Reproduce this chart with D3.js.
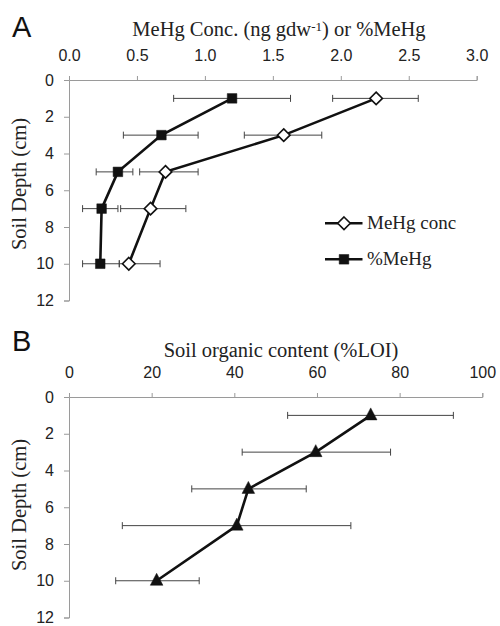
<!DOCTYPE html>
<html>
<head>
<meta charset="utf-8">
<script src="https://cdn.jsdelivr.net/npm/d3@7"></script>
<style>
  body { margin: 0; background: #fff; }
  .tick text { font-family: "Liberation Sans", Arial, sans-serif; font-size: 16px; fill: #222; }
  .serif { font-family: "Liberation Serif", "Times New Roman", serif; fill: #222; }
</style>
</head>
<body>
<svg id="chart"></svg>
<script>
// data (depth in cm)
const depths = [1, 3, 5, 7, 10];

const mehgConc = [2.26, 1.58, 0.71, 0.60, 0.44];
const mehgConcLo = [1.94, 1.29, 0.52, 0.38, 0.37];
const mehgConcHi = [2.57, 1.86, 0.95, 0.86, 0.67];

const pctMehg = [1.20, 0.68, 0.36, 0.24, 0.23];
const pctMehgLo = [0.77, 0.40, 0.20, 0.10, 0.10];
const pctMehgHi = [1.63, 0.95, 0.47, 0.36, 0.37];

const loi = [73.0, 59.7, 43.4, 40.6, 21.2];
const loiLo = [52.9, 41.9, 29.7, 12.9, 11.3];
const loiHi = [93.0, 77.8, 57.4, 68.2, 31.5];

const depthTicks = [0, 2, 4, 6, 8, 10, 12];
const ticksA = [0, 0.5, 1, 1.5, 2, 2.5, 3];
const ticksB = [0, 20, 40, 60, 80, 100];

const svg = d3.select('#chart')
    .attr('width', 500)
    .attr('height', 626);

const axisColor = '#9a9a9a';

function panel(opts) {
    const g = svg.append('g');
    const x = d3.scaleLinear().domain(opts.xDomain).range([69, opts.xRight]);
    const y = d3.scaleLinear().domain([0, 12]).range([opts.top, opts.top + 220.5]);

    // top axis
    const xa = g.append('g')
        .attr('transform', `translate(0,${opts.top})`)
        .call(d3.axisTop(x).tickValues(opts.xTicks).tickFormat(opts.fmt).tickSize(4).tickPadding(15));
    // left axis
    const ya = g.append('g')
        .attr('transform', 'translate(69,0)')
        .call(d3.axisLeft(y).tickValues(depthTicks).tickSize(5).tickPadding(10));
    [xa, ya].forEach(a => {
        a.select('.domain').attr('stroke', axisColor);
        a.selectAll('.tick line').attr('stroke', axisColor);
    });

    // labels
    g.append('text').attr('x', 12).attr('y', opts.letterY)
        .style('font-family', '"Liberation Sans", Arial, sans-serif')
        .style('font-size', '29px').attr('fill', '#111').text(opts.letter);

    const t = g.append('text').attr('class', 'serif')
        .attr('x', opts.titleX).attr('y', opts.titleY)
        .attr('text-anchor', 'middle').style('font-size', '20.5px');
    opts.title(t);

    g.append('text').attr('class', 'serif')
        .attr('transform', `translate(26,${opts.yTitleMid}) rotate(-90)`)
        .attr('text-anchor', 'middle').style('font-size', '20.5px')
        .text('Soil Depth (cm)');

    return { g, x, y };
}

function series(p, vals, lo, hi, shape) {
    const pts = depths.map((d, i) => ({ d, v: vals[i], lo: lo[i], hi: hi[i] }));
    const eb = p.g.append('g').attr('stroke', '#444').attr('stroke-width', 1);
    pts.forEach(q => {
        const yy = p.y(q.d);
        eb.append('line').attr('x1', p.x(q.lo)).attr('x2', p.x(q.hi)).attr('y1', yy).attr('y2', yy);
        eb.append('line').attr('x1', p.x(q.lo)).attr('x2', p.x(q.lo)).attr('y1', yy - 3.5).attr('y2', yy + 3.5);
        eb.append('line').attr('x1', p.x(q.hi)).attr('x2', p.x(q.hi)).attr('y1', yy - 3.5).attr('y2', yy + 3.5);
    });
    p.g.append('path').datum(pts)
        .attr('fill', 'none').attr('stroke', '#111').attr('stroke-width', 2.6)
        .attr('d', d3.line().x(q => p.x(q.v)).y(q => p.y(q.d)));
    p.g.selectAll(null).data(pts).enter().append('path')
        .attr('transform', q => `translate(${p.x(q.v)},${p.y(q.d)})`)
        .attr('d', shape.path)
        .attr('fill', shape.fill).attr('stroke', '#111').attr('stroke-width', shape.sw);
}

const diamond = { path: 'M0,-6.3L6.3,0L0,6.3L-6.3,0Z', fill: '#fff', sw: 1.6 };
const square = { path: 'M-4.8,-4.8H4.8V4.8H-4.8Z', fill: '#111', sw: 0.5 };
const triangle = { path: 'M0,-7.5L6.3,4.5L-6.3,4.5Z', fill: '#111', sw: 0.5 };

// Panel A
const pA = panel({
    top: 80, xDomain: [0, 3], xRight: 476.7, xTicks: ticksA, fmt: d3.format('.1f'),
    letter: 'A', letterY: 36.5, titleX: 279, titleY: 36, yTitleMid: 184,
    title: t => {
        t.append('tspan').text('MeHg Conc. (ng gdw');
        t.append('tspan').style('font-size', '13px').attr('dy', -5).text('-1');
        t.append('tspan').attr('dy', 5).text(') or %MeHg');
    }
});
series(pA, mehgConc, mehgConcLo, mehgConcHi, diamond);
series(pA, pctMehg, pctMehgLo, pctMehgHi, square);

// legend
const legend = [{ name: 'MeHg conc', shape: diamond }, { name: '%MeHg', shape: square }];
legend.forEach((l, i) => {
    const yy = 223.3 + i * 36;
    pA.g.append('line').attr('x1', 325).attr('x2', 362.5).attr('y1', yy).attr('y2', yy)
        .attr('stroke', '#111').attr('stroke-width', 2.6);
    pA.g.append('path').attr('transform', `translate(344,${yy})`).attr('d', l.shape.path)
        .attr('fill', l.shape.fill).attr('stroke', '#111').attr('stroke-width', l.shape.sw);
    pA.g.append('text').attr('class', 'serif').attr('x', 367).attr('y', yy + 6)
        .style('font-size', '19px').text(l.name);
});

// Panel B
const pB = panel({
    top: 397, xDomain: [0, 100], xRight: 482.3, xTicks: ticksB, fmt: d3.format('d'),
    letter: 'B', letterY: 351, titleX: 281, titleY: 356.5, yTitleMid: 505,
    title: t => t.text('Soil organic content (%LOI)')
});
series(pB, loi, loiLo, loiHi, triangle);
</script>
</body>
</html>
